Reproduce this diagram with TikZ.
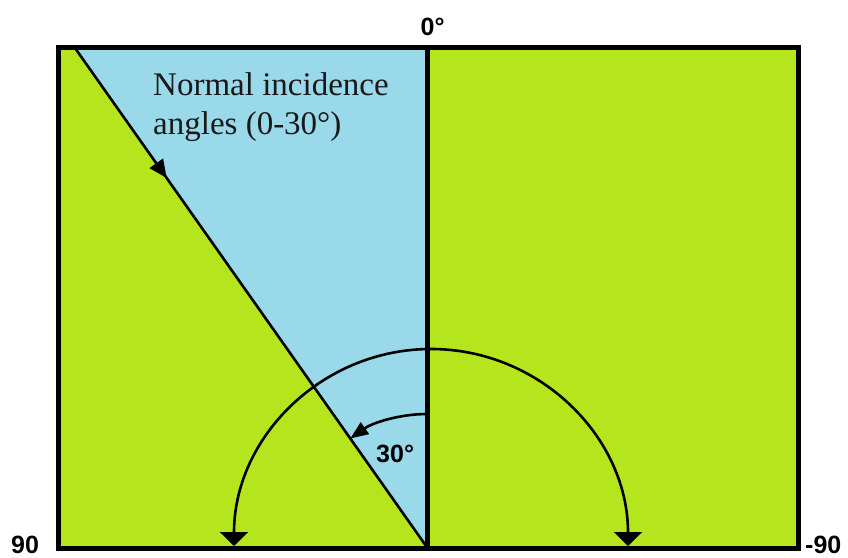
\documentclass[tikz,border=0pt]{standalone}
\usepackage{fontspec}
\setmainfont{Liberation Serif}
\setsansfont{Liberation Sans}
\usetikzlibrary{arrows.meta,decorations.markings}
\definecolor{limeg}{HTML}{B5E61D}
\definecolor{turq}{HTML}{99D9EA}
\tikzset{
  frame/.style={line width=5pt,line join=miter},
  thinline/.style={line width=2.6pt},
  lbl/.style={font=\sffamily\bfseries\fontsize{25}{30}\selectfont,inner sep=0pt},
  serif/.style={font=\fontsize{33}{39}\selectfont,inner sep=0pt,text=black!90}
}
\begin{document}
\begin{tikzpicture}[x=1pt,y=1pt]
\useasboundingbox (0,0) rectangle (848,557);
\coordinate (bl) at (58.5,9);
\coordinate (tr) at (798,509);
\coordinate (o) at (427.5,9);
\coordinate (top) at (427.5,509);
\coordinate (dtop) at (75,509);
% fills
\fill[limeg] (bl) rectangle (tr);
\fill[turq] (dtop) -- (top) -- (o) -- cycle;
% diagonal with arrow
\draw[thinline,decoration={markings,mark=at position 0.26 with {\arrow{Triangle[width=16pt,length=18pt]}}},postaction={decorate}] (dtop) -- (o);
% frame and central line
\draw[frame] (bl) rectangle (tr);
\draw[frame] (top) -- (o);
% big arc
\draw[thinline,{Triangle[width=28pt,length=14pt]}-{Triangle[width=28pt,length=14pt]}] (234,11) arc[start angle=180,end angle=0,radius=197];
% small arc
\draw[thinline,-{Triangle[width=14pt,length=18pt]}] (427.5,143) arc[start angle=90,end angle=125.2,radius=134];
% labels
\node[lbl,anchor=base west] (zero) at (420.5,521) {0°};
\node[lbl,anchor=base west] (ninety) at (11,4) {90};
\node[lbl,anchor=base west] (mninety) at (805,4) {-90};
\node[lbl,anchor=base west] (thirty) at (376,95) {30°};
\node[serif,anchor=base west] (t1) at (153,461) {Normal incidence};
\node[serif,anchor=base west] (t2) at (153,422) {angles (0-30°)};
\end{tikzpicture}
\end{document}
